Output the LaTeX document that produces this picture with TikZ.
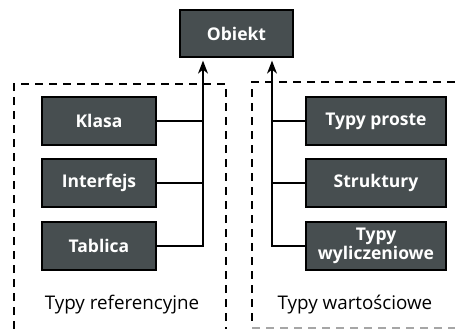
\documentclass[tikz,border=0pt]{standalone}
\usepackage{fontspec}
\setmainfont{Open Sans}
\usetikzlibrary{arrows.meta}
\begin{document}
\begin{tikzpicture}[x=1pt,y=-1pt,
  box/.style={draw=black,line width=1.3pt,fill=boxgray,text=white,font=\bfseries\fontsize{17.5}{19}\selectfont,inner sep=0pt,align=center},
  conn/.style={line width=1.3pt},
  tip/.style={-{Stealth[length=13pt,width=10pt,inset=4pt]}},
  frame/.style={line width=2pt,dash pattern=on 8pt off 6pt},
  lbl/.style={font=\fontsize{18.8}{20}\selectfont}]
\definecolor{boxgray}{HTML}{474E50}
\useasboundingbox (0,0) rectangle (455,329);
\node[box,minimum width=113pt,minimum height=47pt] (obj) at (236.5,33.5) {Obiekt};
\node[box,minimum width=114pt,minimum height=48pt] (kl) at (99,121) {Klasa};
\node[box,minimum width=114pt,minimum height=48pt] (in) at (99,183) {Interfejs};
\node[box,minimum width=114pt,minimum height=48pt] (ta) at (99,246) {Tablica};
\node[box,minimum width=140pt,minimum height=48pt] (tp) at (376,121) {Typy proste};
\node[box,minimum width=140pt,minimum height=48pt] (st) at (376,183) {Struktury};
\node[box,minimum width=140pt,minimum height=48pt,font=\bfseries\fontsize{17.5}{17}\selectfont] (tw) at (376,246) {Typy\\wyliczeniowe};
\coordinate (la) at (203,0);
\coordinate (ra) at (272,0);
\draw[frame] (14,329) -- (14,84) -- (226,84) -- (226,329);
\draw[frame] (455,82) -- (252,82) -- (252,322);
\draw[draw=gray!70,line width=1.2pt,dash pattern=on 8pt off 6pt] (252,328) -- (455,328);
\draw[conn,tip] (ta.east) -| ([yshift=-3pt]obj.south -| la);
\draw[conn] (kl.east) -- (kl.east -| la);
\draw[conn] (in.east) -- (in.east -| la);
\draw[conn,tip] (tw.west) -| ([yshift=-3pt]obj.south -| ra);
\draw[conn] (tp.west) -- (tp.west -| ra);
\draw[conn] (st.west) -- (st.west -| ra);
\node[lbl] (l1) at (122,305) {Typy referencyjne};
\node[lbl] (l2) at (355,305) {Typy wartościowe};
\end{tikzpicture}
\end{document}
